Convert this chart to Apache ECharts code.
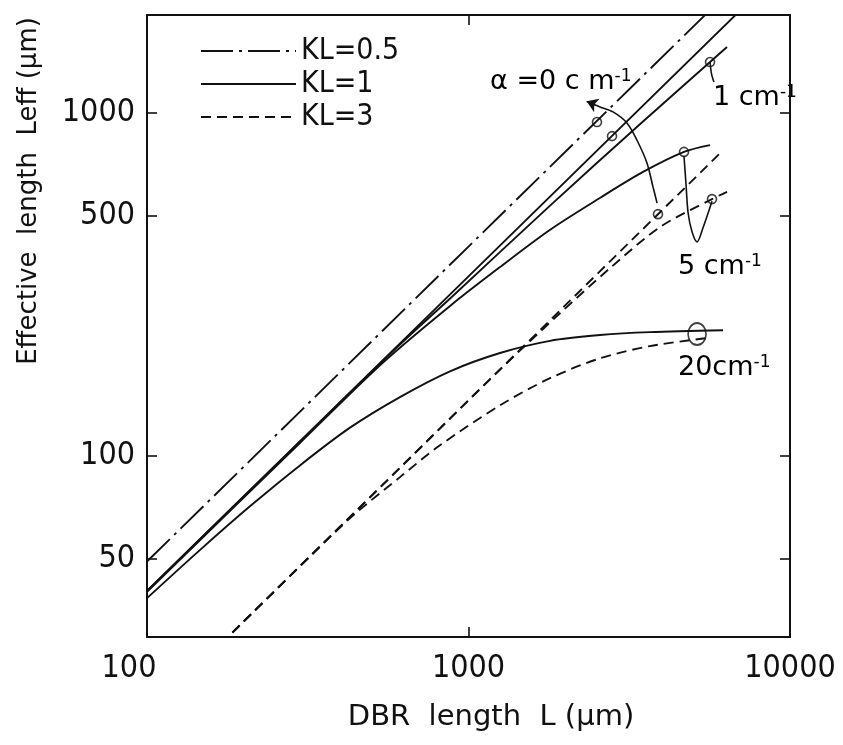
<!DOCTYPE html>
<html><head><meta charset="utf-8">
<script src="https://cdn.jsdelivr.net/npm/echarts@6/dist/echarts.min.js"></script>
<style>html,body{margin:0;padding:0;background:#fff}#c{width:843px;height:745px}</style>
</head><body><div id="c"></div>
<script>
// ---- axis ranges and tick values ----
const xRange = [100, 10000];
const yRange = [29.5, 1930];
const xTicks = [100, 1000, 10000];
const yTicks = [50, 100, 500, 1000];

// ---- curves: [DBR length L (um), effective length Leff (um)] ----
const kl05_a0  = [[100,49],[1000,407],[6000,2110]];
const kl1_a0   = [[100,40.2],[1000,333],[7000,1990]];
const kl1_a1   = [[100,40.2],[300,110],[600,207],[880,288],[1790,535],[3420,928],[5640,1407],[6370,1557]];
const kl1_a5   = [[100,40],[300,109],[540,186],[880,274],[1250,354],[1790,455],[2570,565],[3490,672],[4680,769],[5640,805]];
const kl1_a20  = [[100,38.3],[146,52.9],[209,71],[299,93.5],[428,120.5],[612,148],[876,176],[1253,199],[1793,216],[2565,224.5],[3668,229],[6190,232]];
const kl3_a0   = [[170,28.2],[1000,144.7],[6060,762]];
const kl3_a5   = [[170,28.2],[600,90.3],[1253,178],[1926,260],[2755,352],[3941,464],[5720,560],[6370,588]];
const kl3_a20  = [[170,28.2],[371,57.8],[450,68.3],[612,86.4],[815,107],[1253,140],[1793,168],[2565,192],[3668,208.5],[5520,220]];

// ---- marker circles and bracket lines ----
const circlesSmall = [[2510,940],[2795,855],[3885,506],[5640,1407],[4680,769],[5720,560]];
const circleBig    = [[5140,226]];
const arc0  = [[2350,1075],[2565,1040],[2815,1006],[3110,934],[3340,833],[3590,714],[3750,607],[3860,545]];
const arrow0 = [[2480,1055],[2330,1080]];
const hook1 = [[5640,1407],[5700,1300],[5800,1230]];
const vee5  = [[4680,748],[4750,616],[4820,510],[4960,449],[5140,420],[5360,461],[5720,552]];

const INK = '#111';
const NARROW = "'Liberation Sans Narrow','DejaVu Sans Condensed','Liberation Sans',sans-serif";
const SANS = "'DejaVu Sans',sans-serif";
const solid = {color: INK, width: 1.9, type: 'solid'};
const dashdot = {color: INK, width: 1.9, type: [32, 6, 3, 6]};
const dashed = {color: INK, width: 1.9, type: [10, 6]};

function curve(name, data, style, smooth) {
  return {name, type: 'line', data, symbol: 'none', showSymbol: false, smooth: smooth ? 0.3 : false,
    lineStyle: style, itemStyle: {color: INK}, silent: true, xAxisIndex: 0, yAxisIndex: 0, z: 2};
}

const chart = echarts.init(document.getElementById('c'), null, {renderer: 'canvas'});
const frameLine = {show: true, lineStyle: {color: INK, width: 2}};
const tickIn = {show: true, inside: true, length: 10, lineStyle: {color: INK, width: 1.6}};
const ly = yRange.map(Math.log10);
const lyTicks = yTicks.map(Math.log10);
const sup = {fontSize: 17, fontFamily: SANS, color: INK, verticalAlign: 'top'};
const big = {fontSize: 27, fontFamily: SANS, color: INK};

chart.setOption({
  animation: false,
  backgroundColor: '#fff',
  grid: {left: 147, right: 53, top: 15, bottom: 108},
  legend: {
    orient: 'vertical', left: 195, top: 31, itemWidth: 95, itemHeight: 14, itemGap: 3,
    selectedMode: false, data: ['KL=0.5', 'KL=1', 'KL=3'],
    itemStyle: {opacity: 0},
    textStyle: {fontSize: 30, fontFamily: NARROW, color: INK, lineHeight: 30}
  },
  xAxis: [
    {type: 'log', logBase: 10, min: xRange[0], max: xRange[1], position: 'bottom',
     axisLine: frameLine, axisTick: tickIn, splitLine: {show: false}, minorTick: {show: false},
     axisLabel: {margin: 16, color: INK, fontSize: 32, fontFamily: NARROW,
       formatter: v => { const n = Math.round(v); return n === xTicks[0] ? '{lo|' + n + '}' : String(n); },
       rich: {lo: {padding: [0, 36, 0, 0], fontSize: 32, fontFamily: NARROW, color: INK}}}},
    {type: 'log', logBase: 10, min: xRange[0], max: xRange[1], position: 'top',
     axisLine: frameLine, axisTick: tickIn, splitLine: {show: false}, axisLabel: {show: false}}
  ],
  yAxis: [
    {type: 'log', logBase: 10, min: yRange[0], max: yRange[1], position: 'left',
     axisLine: frameLine, axisTick: {show: false}, axisLabel: {show: false}, splitLine: {show: false}},
    {type: 'value', min: ly[0], max: ly[1], position: 'left',
     axisLine: {show: false}, splitLine: {show: false},
     axisTick: Object.assign({customValues: lyTicks}, tickIn),
     axisLabel: {customValues: lyTicks, margin: 12, color: INK, fontSize: 32, fontFamily: NARROW,
       formatter: v => String(Math.round(Math.pow(10, v)))}},
    {type: 'value', min: ly[0], max: ly[1], position: 'right',
     axisLine: frameLine, splitLine: {show: false},
     axisTick: Object.assign({customValues: lyTicks}, tickIn), axisLabel: {show: false}}
  ],
  series: [
    curve('KL=0.5', kl05_a0, dashdot, false),
    curve('KL=1', kl1_a0, solid, false),
    curve('KL=3', kl3_a0, dashed, false),
    curve('KL=1, α=1', kl1_a1, solid, true),
    curve('KL=1, α=5', kl1_a5, solid, true),
    curve('KL=1, α=20', kl1_a20, solid, true),
    curve('KL=3, α=5', kl3_a5, dashed, true),
    curve('KL=3, α=20', kl3_a20, dashed, true),
    curve('hook 1', hook1, {color: INK, width: 1.6}, true),
    curve('bracket 5', vee5, {color: INK, width: 1.6}, true),
    curve('bracket 0', arc0, {color: INK, width: 1.6}, true),
    {type: 'lines', coordinateSystem: 'cartesian2d', xAxisIndex: 0, yAxisIndex: 0,
     silent: true, symbol: ['none', 'arrow'], symbolSize: 11,
     lineStyle: {color: INK, width: 1.6, opacity: 1, curveness: 0}, data: [{coords: arrow0}], z: 3},
    {type: 'scatter', data: circlesSmall, symbol: 'circle', symbolSize: 9, silent: true, z: 4,
     itemStyle: {color: 'rgba(255,255,255,0)', borderColor: INK, borderWidth: 1.6}},
    {type: 'scatter', data: circleBig, symbol: 'circle', symbolSize: [18, 22], silent: true, z: 4,
     itemStyle: {color: 'rgba(255,255,255,0)', borderColor: INK, borderWidth: 1.8}}
  ],
  graphic: [
    {type: 'text', x: 29, y: 191, rotation: Math.PI / 2,
     style: {text: 'Effective  length  Leff (μm)', font: '26px ' + SANS, fill: INK, align: 'center', verticalAlign: 'middle'}},
    {type: 'text', x: 491, y: 717,
     style: {text: 'DBR  length  L (μm)', font: '29px ' + SANS, fill: INK, align: 'center', verticalAlign: 'middle'}},
    {type: 'text', x: 490, y: 82,
     style: {text: '{a|α =0 c m}{s|-1}', align: 'left', verticalAlign: 'middle', rich: {a: big, s: sup}}},
    {type: 'text', x: 713, y: 98,
     style: {text: '{a|1 cm}{s|-1}', align: 'left', verticalAlign: 'middle', rich: {a: big, s: sup}}},
    {type: 'text', x: 678, y: 267,
     style: {text: '{a|5 cm}{s|-1}', align: 'left', verticalAlign: 'middle', rich: {a: big, s: sup}}},
    {type: 'text', x: 678, y: 368,
     style: {text: '{a|20cm}{s|-1}', align: 'left', verticalAlign: 'middle', rich: {a: big, s: sup}}}
  ]
});
</script></body></html>
